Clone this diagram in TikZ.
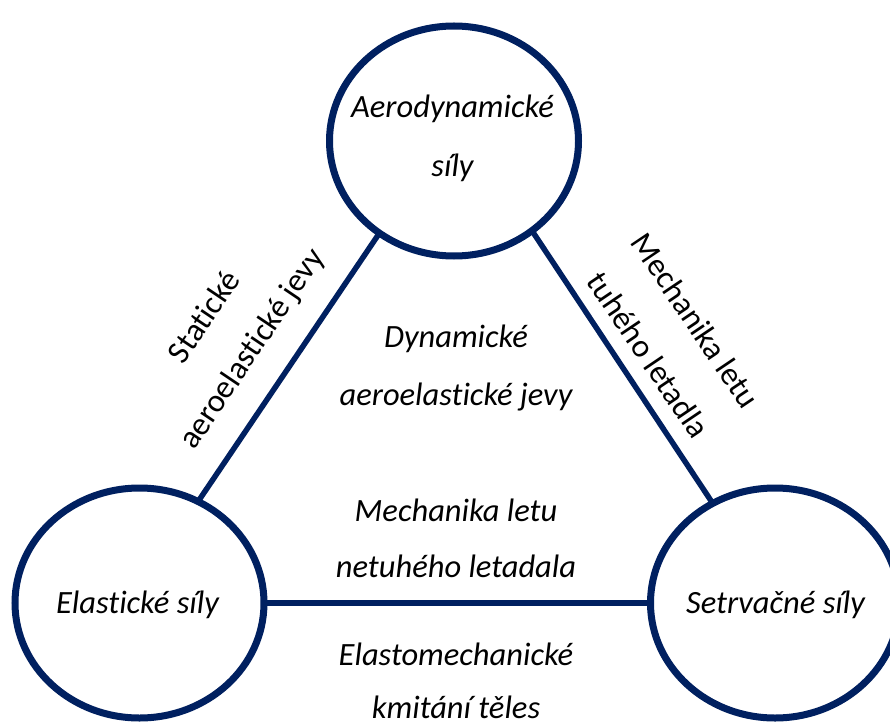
\documentclass[tikz,border=0pt]{standalone}
\usepackage{fontspec}
\setmainfont{Carlito}[Ligatures=NoCommon]
\usetikzlibrary{shapes.geometric}
\definecolor{navy}{HTML}{002060}
\begin{document}
\begin{tikzpicture}[x=1bp,y=-1bp,
  force/.style={ellipse, draw=navy, line width=7bp, minimum width=249bp, minimum height=230bp, inner sep=0pt, outer sep=0pt},
  conn/.style={draw=navy, line width=5.5bp},
  itext/.style={font=\fontsize{32.5bp}{36bp}\selectfont\itshape, anchor=base, inner sep=0pt},
  rtext/.style={font=\fontsize{32.5bp}{36bp}\selectfont, anchor=base, inner sep=0pt}]
\clip (0,0) rectangle (890,722);
\fill[white] (0,0) rectangle (890,722);
\node[force] (aero) at (454,141) {};
\node[force] (elast) at (139.5,603) {};
\node[force] (setr) at (775,603) {};
\draw[conn] (aero.231) -- (elast.60);
\draw[conn] (aero.311) -- (setr.122);
\draw[conn] (elast.east) -- (setr.west);
\node[itext] (aero1) at (452.5,118) {Aerodynamické};
\node[itext] (aero2) at (452.5,177) {síly};
\node[itext] (elastT) at (137.5,613) {Elastické síly};
\node[itext] (setrT) at (775.5,613) {Setrvačné síly};
\node[itext] (dyn1) at (456,347) {Dynamické};
\node[itext] (dyn2) at (456,405) {aeroelastické jevy};
\node[itext] (mech1) at (456,521) {Mechanika letu};
\node[itext] (mech2) at (456,577) {netuhého letadala};
\node[itext] (kmit1) at (456,665) {Elastomechanické};
\node[itext] (kmit2) at (456,718) {kmitání těles};
\node[rtext, rotate=56] (stat1) at (212.6,322.5) {Statické};
\node[rtext, rotate=56] (stat2) at (260,354) {aeroelastické jevy};
\node[rtext, rotate=-56] (tuh1) at (686.4,326.5) {Mechanika letu};
\node[rtext, rotate=-56] (tuh2) at (639.2,360.9) {tuhého letadla};
\end{tikzpicture}
\end{document}
